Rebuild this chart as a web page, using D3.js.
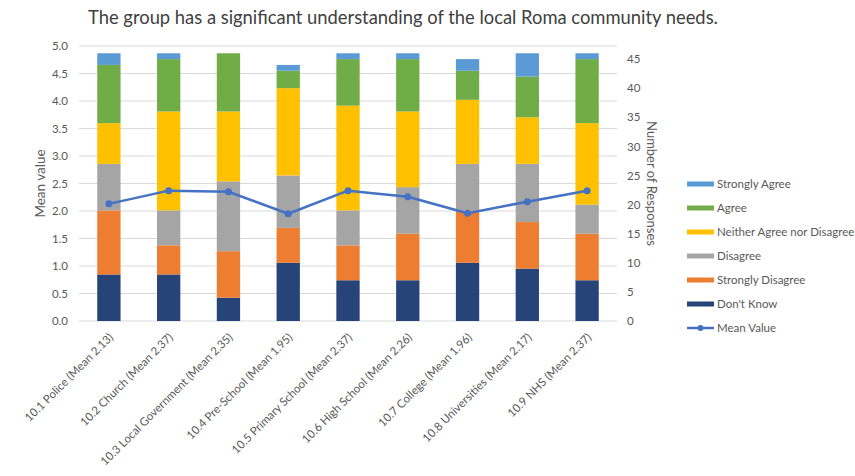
<!DOCTYPE html>
<html>
<head>
<meta charset="utf-8">
<script src="https://cdn.jsdelivr.net/npm/d3@7"></script>
<style>
  html, body { margin: 0; padding: 0; background: #fff; }
  svg { display: block; font-family: Lato, "Open Sans", sans-serif; }
</style>
</head>
<body>
<svg id="chart" width="855" height="476"></svg>
<script>
const title = "The group has a significant understanding of the local Roma community needs.";
const categories = [
  "10.1 Police (Mean 2.13)",
  "10.2 Church (Mean 2.37)",
  "10.3 Local Government (Mean 2.35)",
  "10.4 Pre-School (Mean 1.95)",
  "10.5 Primary School (Mean 2.37)",
  "10.6 High School (Mean 2.26)",
  "10.7 College (Mean 1.96)",
  "10.8 Universities (Mean 2.17)",
  "10.9 NHS (Mean 2.37)"
];
const dontKnow          = [8, 8, 4, 10, 7, 7, 10, 9, 7];
const stronglyDisagree  = [11, 5, 8, 6, 6, 8, 9, 8, 8];
const disagree          = [8, 6, 12, 9, 6, 8, 8, 10, 5];
const neither           = [7, 17, 12, 15, 18, 13, 11, 8, 14];
const agree             = [10, 9, 10, 3, 8, 9, 5, 7, 11];
const stronglyAgree     = [2, 1, 0, 1, 1, 1, 2, 4, 1];
const meanValues        = [2.13, 2.37, 2.35, 1.95, 2.37, 2.26, 1.96, 2.17, 2.37];
const leftTicks  = [0, 0.5, 1, 1.5, 2, 2.5, 3, 3.5, 4, 4.5, 5];
const rightTicks = [0, 5, 10, 15, 20, 25, 30, 35, 40, 45];

const seriesNames = ["Don't Know", "Strongly Disagree", "Disagree", "Neither Agree nor Disagree", "Agree", "Strongly Agree"];
const seriesValues = [dontKnow, stronglyDisagree, disagree, neither, agree, stronglyAgree];
const colors = {
  "Don't Know": "#264478",
  "Strongly Disagree": "#ED7D31",
  "Disagree": "#A5A5A5",
  "Neither Agree nor Disagree": "#FFC000",
  "Agree": "#70AD47",
  "Strongly Agree": "#5B9BD5"
};
const lineColor = "#4472C4";
const textColor = "#595959";

const rows = categories.map((c, i) => {
  const r = { cat: c };
  seriesNames.forEach((s, j) => r[s] = seriesValues[j][i]);
  return r;
});

const svg = d3.select("#chart");
const plot = { left: 79, right: 617, top: 46, bottom: 321 };

const x = d3.scaleBand().domain(categories).range([plot.left, plot.right])
  .paddingInner(0.61).paddingOuter(0.305);
const yL = d3.scaleLinear().domain([0, 5]).range([plot.bottom, plot.top]);
const yR = d3.scaleLinear().domain([0, 47.25]).range([plot.bottom, plot.top]);

// gridlines
svg.append("g").selectAll("line").data(leftTicks).join("line")
  .attr("x1", plot.left).attr("x2", plot.right)
  .attr("y1", d => yL(d)).attr("y2", d => yL(d))
  .attr("stroke", "#d9d9d9").attr("stroke-width", 1);

// stacked bars
const stack = d3.stack().keys(seriesNames)(rows);
svg.append("g").selectAll("g").data(stack).join("g")
  .attr("fill", d => colors[d.key])
  .selectAll("rect").data(d => d).join("rect")
  .attr("x", d => x(d.data.cat))
  .attr("width", x.bandwidth())
  .attr("y", d => yR(d[1]))
  .attr("height", d => yR(d[0]) - yR(d[1]));

// mean line
const line = d3.line().x((d, i) => x(categories[i]) + x.bandwidth() / 2).y(d => yL(d));
svg.append("path").datum(meanValues)
  .attr("d", line).attr("fill", "none")
  .attr("stroke", lineColor).attr("stroke-width", 2.5).attr("stroke-linejoin", "round");
svg.append("g").selectAll("circle").data(meanValues).join("circle")
  .attr("cx", (d, i) => x(categories[i]) + x.bandwidth() / 2)
  .attr("cy", d => yL(d)).attr("r", 3.5).attr("fill", lineColor);

// left axis
const axL = svg.append("g").attr("transform", `translate(${plot.left - 8},0)`)
  .call(d3.axisLeft(yL).tickValues(leftTicks).tickFormat(d3.format(".1f")).tickSize(0));
axL.select(".domain").remove();
axL.selectAll("text").attr("fill", textColor).style("font-size", "11.5px").style("font-family", "Lato, sans-serif");

// right axis
const axR = svg.append("g").attr("transform", `translate(${plot.right + 7},0)`)
  .call(d3.axisRight(yR).tickValues(rightTicks).tickFormat(d3.format("d")).tickSize(0));
axR.select(".domain").remove();
axR.selectAll("text").attr("fill", textColor).style("font-size", "11.5px").style("font-family", "Lato, sans-serif");

// x axis labels
const axX = svg.append("g").attr("transform", `translate(0,${plot.bottom})`)
  .call(d3.axisBottom(x).tickSize(0));
axX.select(".domain").remove();
axX.selectAll("text")
  .attr("fill", textColor).style("font-size", "11.5px").style("font-family", "Lato, sans-serif")
  .attr("text-anchor", "end")
  .attr("dy", null).attr("y", 0).attr("x", 0)
  .attr("transform", "translate(5,17) rotate(-45)");

// axis titles
svg.append("text").attr("transform", `translate(45,${(plot.top + plot.bottom) / 2}) rotate(-90)`)
  .attr("text-anchor", "middle").attr("fill", textColor).style("font-size", "13.5px")
  .text("Mean value");
svg.append("text").attr("transform", `translate(647,${(plot.top + plot.bottom) / 2}) rotate(90)`)
  .attr("text-anchor", "middle").attr("fill", textColor).style("font-size", "13px")
  .text("Number of Responses");

// title
const t = svg.append("text").attr("x", 403).attr("y", 24).attr("text-anchor", "middle")
  .attr("fill", "#404040").style("font-size", "16px").text(title);
const w = t.node().getComputedTextLength();
t.style("font-size", (16 * 630 / w).toFixed(2) + "px");

// legend
const legendItems = ["Strongly Agree", "Agree", "Neither Agree nor Disagree", "Disagree", "Strongly Disagree", "Don't Know", "Mean Value"];
const lg = svg.append("g").selectAll("g").data(legendItems).join("g")
  .attr("transform", (d, i) => `translate(687,${184 + i * 24})`);
lg.each(function(d) {
  const g = d3.select(this);
  if (d === "Mean Value") {
    g.append("line").attr("x1", 0).attr("x2", 27).attr("y1", 0).attr("y2", 0)
      .attr("stroke", lineColor).attr("stroke-width", 2.5);
    g.append("circle").attr("cx", 13.5).attr("cy", 0).attr("r", 3).attr("fill", lineColor);
  } else {
    g.append("rect").attr("x", 0).attr("y", -2.5).attr("width", 27).attr("height", 5).attr("fill", colors[d]);
  }
  g.append("text").attr("x", 30).attr("y", 0).attr("dy", "0.35em")
    .attr("fill", textColor).style("font-size", "11.5px").text(d);
});
</script>
</body>
</html>
